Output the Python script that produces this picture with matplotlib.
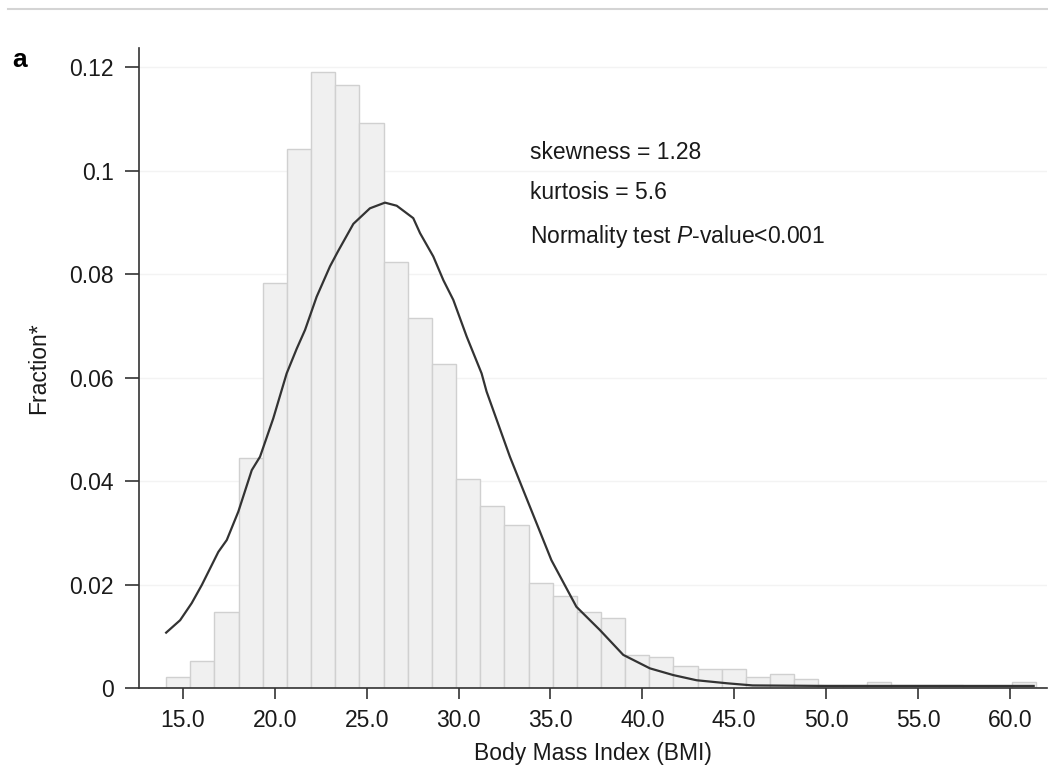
import numpy as np
import matplotlib
matplotlib.use('Agg')
import matplotlib.pyplot as plt
from matplotlib.lines import Line2D

plt.rcParams['font.family'] = ['Liberation Sans', 'DejaVu Sans']
plt.rcParams['mathtext.fontset'] = 'custom'
plt.rcParams['mathtext.rm'] = 'Liberation Sans'
plt.rcParams['mathtext.it'] = 'Liberation Sans:italic'

# histogram: 36 bins of BMI, fraction of subjects per bin
bin_lo, bin_hi, nbins = 14.08, 61.42, 36
fraction = [0.0022, 0.0053, 0.0146, 0.0445, 0.0782, 0.1042, 0.1190, 0.1165,
            0.1091, 0.0823, 0.0716, 0.0627, 0.0403, 0.0352, 0.0315, 0.0202,
            0.0178, 0.0146, 0.0136, 0.0064, 0.0059, 0.0042, 0.0036, 0.0037,
            0.0021, 0.0028, 0.0017, 0.0006, 0.0006, 0.0011, 0.0005, 0.0006,
            0.0006, 0.0004, 0.0004, 0.0011]

# overlaid normal curve, sampled from the figure
curve_bmi = [14.08, 14.84, 15.47, 16.02, 16.92, 17.38, 18.01, 18.74, 19.19,
             19.91, 20.64, 21.19, 21.64, 22.27, 23.00, 23.45, 24.27, 25.17,
             25.99, 26.63, 27.53, 27.90, 28.62, 29.17, 29.71, 30.44, 31.25,
             31.52, 32.79, 33.51, 35.05, 36.41, 37.69, 38.96, 40.41, 41.68,
             42.95, 44.65, 46.0, 50.0, 55.0, 61.3]
curve_frac = [0.0107, 0.0131, 0.0164, 0.0199, 0.0263, 0.0286, 0.0341, 0.0421,
              0.0447, 0.0521, 0.0608, 0.0656, 0.0692, 0.0756, 0.0815, 0.0845,
              0.0897, 0.0927, 0.0938, 0.0932, 0.0908, 0.0879, 0.0834, 0.0788,
              0.0750, 0.0679, 0.0608, 0.0573, 0.0447, 0.0383, 0.0247, 0.0157,
              0.0112, 0.0064, 0.0038, 0.0025, 0.0015, 0.0009, 0.0005, 0.0004,
              0.0004, 0.0004]

xticks = [15, 20, 25, 30, 35, 40, 45, 50, 55, 60]
yticks = [0, 0.02, 0.04, 0.06, 0.08, 0.1, 0.12]
ytick_labels = ['0', '0.02', '0.04', '0.06', '0.08', '0.1', '0.12']

edges = np.linspace(bin_lo, bin_hi, nbins + 1)
fs = 16.5

fig = plt.figure(figsize=(10.48, 7.74), dpi=100)
ax = fig.add_axes([0.1326, 0.1111, 0.866, 0.827])

ax.bar(edges[:-1], fraction, width=np.diff(edges), align='edge',
       color='#f0f0f0', edgecolor='#d0d0d0', lw=1.0, zorder=2)
ax.plot(curve_bmi, curve_frac, c='#333333', lw=1.6, zorder=3)

ax.set_xlim(12.6, 62.0)
ax.set_ylim(0, 0.1237)
ax.set_xticks(xticks)
ax.set_xticklabels(['{:.1f}'.format(v) for v in xticks])
ax.set_yticks(yticks)
ax.set_yticklabels(ytick_labels)
ax.yaxis.grid(True, color='#f3f3f3', lw=1.0, zorder=0)
ax.set_axisbelow(True)

for s in ['top', 'right']:
    ax.spines[s].set_visible(False)
for s in ['left', 'bottom']:
    ax.spines[s].set_color('#333333')
    ax.spines[s].set_linewidth(1.2)
ax.tick_params(axis='y', direction='out', length=10, width=1.2,
               color='#333333', labelsize=fs, labelcolor='#1a1a1a', pad=8)
ax.tick_params(axis='x', direction='out', length=8, width=1.2,
               color='#333333', labelsize=fs, labelcolor='#1a1a1a', pad=7)

ax.set_xlabel('Body Mass Index (BMI)', fontsize=fs, color='#1a1a1a', labelpad=7)
ax.set_ylabel('Fraction*', fontsize=fs, color='#1a1a1a', labelpad=14)

tx = 33.88
ax.text(tx, 0.1034, 'skewness = 1.28', fontsize=fs, va='center', color='#1a1a1a')
ax.text(tx, 0.0958, 'kurtosis = 5.6', fontsize=fs, va='center', color='#1a1a1a')
ax.text(tx, 0.0873, r'Normality test $\mathit{P}$-value<0.001', fontsize=fs,
        va='center', color='#1a1a1a')

fig.text(0.012, 0.922, 'a', fontsize=19, fontweight='bold', va='center')
fig.add_artist(Line2D([0.008, 1.0], [0.988, 0.988], color='#d4d4d4', lw=1.5))

fig.savefig('out.png', dpi=100)
